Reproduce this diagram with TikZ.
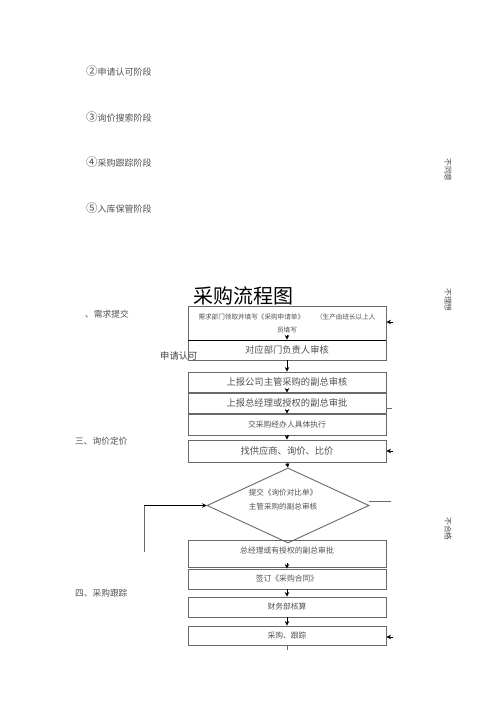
\documentclass[tikz,border=0pt]{standalone}
\usepackage{fontspec}
\setmainfont{Noto Sans CJK SC}
\newfontfamily\cjk{Noto Sans CJK SC}
\usetikzlibrary{arrows.meta,shapes.geometric,calc}
\definecolor{txt}{RGB}{80,80,80}
\definecolor{edge}{RGB}{105,105,105}
\newcommand{\circd}[1]{{\fontsize{11.5}{11}\selectfont #1}}
\tikzset{
  box/.style={draw=edge,line width=0.9pt,minimum width=198pt,inner sep=0pt,
    text=txt,font=\cjk\fontsize{9.3}{11}\selectfont},
  smallbox/.style={box,font=\cjk\fontsize{7.8}{9}\selectfont},
  lbl/.style={anchor=west,inner sep=0pt,text=txt,font=\cjk\fontsize{9}{11}\selectfont},
  side/.style={inner sep=0pt,text=txt,rotate=-90,font=\cjk\fontsize{7.8}{9}\selectfont},
  arr/.style={draw=black,line width=0.8pt,-{Stealth[length=4.5pt,width=4.5pt]}},
  conn/.style={draw=edge,line width=0.8pt}
}
\begin{document}
\begin{tikzpicture}[x=1pt,y=-1pt]
\useasboundingbox (0,0) rectangle (500,708);
% stage list
\node[lbl] (s2) at (86,71) {\circd{②}申请认可阶段};
\node[lbl] (s3) at (86,117) {\circd{③}询价搜索阶段};
\node[lbl] (s4) at (86,162) {\circd{④}采购跟踪阶段};
\node[lbl] (s5) at (86,208) {\circd{⑤}入库保管阶段};
% side labels
\node[side] (n1) at (448,170) {不同意};
\node[side] (n2) at (448,300) {不理想};
\node[side] (n3) at (448,529) {不合格};
% title
\node[inner sep=0pt,font=\cjk\fontsize{20}{22}\selectfont] (title) at (243,296) {采购流程图};
% section labels
\node[lbl,font=\cjk\fontsize{8.7}{10}\selectfont] (sec1) at (85,314) {、需求提交};
\node[lbl,font=\cjk\fontsize{8.7}{10}\selectfont] (sec3) at (75,441) {三、询价定价};
\node[lbl,font=\cjk\fontsize{8.7}{10}\selectfont] (sec4) at (75,593) {四、采购跟踪};
% boxes
\node[box,minimum height=34pt,align=center,font=\cjk\fontsize{6.6}{13}\selectfont] (b1) at (287,323)
  {需求部门领取并填写《采购申请单》\hspace{12pt}（生产由班长以上人\\员填写};
\node[box,minimum height=20pt] (b2) at (287,350) {对应部门负责人审核};
\node[box,minimum height=20pt] (b3) at (287,382) {上报公司主管采购的副总审核};
\node[box,minimum height=20pt] (b4) at (287,403) {上报总经理或授权的副总审批};
\node[smallbox,minimum height=21pt] (b5) at (287,424.5) {交采购经办人具体执行};
\node[box,minimum height=22pt] (b6) at (287,451) {找供应商、询价、比价};
\node[smallbox,minimum height=27pt,text depth=6pt] (b7) at (287,553.5) {总经理或有授权的副总审批};
\node[draw=edge,line width=0.9pt,shape=diamond,minimum width=162pt,minimum height=75pt,inner sep=0pt] (dm) at (288,505.5) {};
\node[inner sep=0pt,align=left,text=txt,font=\cjk\fontsize{7.6}{14}\selectfont] (dt) at (283,500) {提交《询价对比单》\\主管采购的副总审核};
\node[smallbox,minimum height=20pt] (b8) at (287,579) {签订《采购合同》};
\node[smallbox,minimum height=20pt] (b9) at (287,607) {财务部核算};
\node[smallbox,minimum height=19pt] (b10) at (287,635.5) {采购、跟踪};
\node[lbl,font=\cjk\fontsize{9.3}{11}\selectfont,text=txt!80!black] (sq) at (160,356) {申请认可};
% thick separator
\draw[line width=1.8pt] (b1.south west) -- (b1.south east);
% vertical arrows
\coordinate (a1) at ($(b1.south)+(0,-5)$);
\draw[arr] (a1) -- (b2.north);
\draw[arr] (b2.south) -- (b3.north);
\draw[arr] ($(b3.south)+(0,-3)$) -- (b4.north);
\draw[arr] ($(b4.south)+(0,-3)$) -- (b5.north);
\draw[arr] (b5.south) -- (b6.north);
\draw[arr] (b6.south) -- (dm.north);
\draw[arr] ($(b7.south)+(0,-4)$) -- (b8.north);
\draw[arr] (b8.south) -- (b9.north);
\draw[arr] (b9.south) -- (b10.north);
\coordinate (tail) at ($(b10.south)+(0,5)$);
\draw[conn] (b10.south) -- (tail);
% left loop
\coordinate (lb) at (144,552);
\coordinate (lt) at (144,505.5);
\draw[conn] (lb) -- (lt);
\draw[arr] (lt) -- (dm.west);
% right side stubs
\coordinate (r1) at (393,322);
\coordinate (r6) at (393,451);
\coordinate (r10) at (393,637);
\coordinate (r4) at (392,408);
\coordinate (rd) at (391,501);
\coordinate (rd0) at (369,501);
\draw[arr] (r1) -- (b1.east|-r1);
\draw[arr] (r6) -- (b6.east);
\draw[arr] (r10) -- (b10.east|-r10);
\draw[conn] (b4.east|-r4) -- (r4);
\draw[conn] (rd0) -- (rd);
\end{tikzpicture}
\end{document}
